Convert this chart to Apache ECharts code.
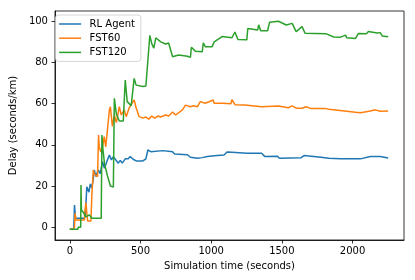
<!DOCTYPE html>
<html><head><meta charset="utf-8">
<script src="https://cdn.jsdelivr.net/npm/echarts@6/dist/echarts.min.js"></script>
<style>html,body{margin:0;padding:0;background:#fff}#c{width:415px;height:280px}</style>
</head><body><div id="c"></div>
<script>
const seriesNames = ['RL Agent', 'FST60', 'FST120'];
const seriesColors = ['#1f77b4', '#ff7f0e', '#2ca02c'];
const xTicks = [0, 500, 1000, 1500, 2000];
const yTicks = [0, 20, 40, 60, 80, 100];
const xTitle = 'Simulation time (seconds)';
const yTitle = 'Delay (seconds/km)';

const rlAgent = [[0,-1],[28,-1],[33,10.8],[40,4.4],[103,4.4],[110,6],[120,19.7],[135,17],[145,21],[155,19],[165,23],[173,27.8],[185,24.6],[200,27.8],[215,26],[231,31.8],[245,28.6],[266,32.7],[280,35],[294,32.7],[308,34.3],[322,35.1],[343,31.1],[357,32.5],[371,31.1],[392,33.2],[413,33.2],[427,34.3],[448,33],[469,32.2],[517,32.2],[538,33.2],[552,37.5],[573,36.7],[587,37.2],[657,37.2],[727,36.7],[741,35.6],[832,35.2],[853,34],[902,33.5],[937,33.8],[972,34.3],[1042,34.8],[1091,35.1],[1112,36.5],[1147,36.4],[1252,35.9],[1357,35.9],[1378,34.4],[1469,34.5],[1483,33.5],[1636,33.8],[1657,34.8],[1671,34],[1776,34],[1832,33.5],[1916,33.2],[2056,33.2],[2126,34.3],[2196,34.3],[2252,33.6]];

const fst60 = [[0,-1],[28,-1],[33,0.3],[37,6.8],[44,3.5],[103,3.5],[106,7.6],[114,12],[120,7],[126,3],[149,3],[156,15.7],[166,27.8],[173,26],[196,24.5],[203,44.8],[208,39],[219,36.7],[231,39],[243,44],[254,39],[266,38.3],[280,57],[287,58.5],[301,49],[315,54.5],[329,50.8],[350,58.5],[364,54.5],[385,57],[399,53.7],[420,58],[455,61.8],[469,58],[490,53.7],[517,53],[538,53.5],[559,52.5],[580,54],[601,53],[622,54],[643,53.5],[678,54.5],[699,54],[727,56],[748,54.5],[797,57],[818,59.3],[853,58.5],[874,59],[902,58.5],[923,61],[937,60.2],[958,60.2],[1014,61.8],[1021,60.2],[1077,60.2],[1140,60],[1147,62],[1168,59.5],[1238,59.3],[1252,58.5],[1357,58.5],[1371,58.2],[1476,58.9],[1545,58],[1573,58.9],[1601,57.8],[1643,57.8],[1671,58.5],[1706,57.6],[1811,57.6],[1832,57.3],[1846,56.6],[2021,55.8],[2056,55.6],[2126,56.4],[2161,57],[2196,56.3],[2252,56.4]];

const fst120 = [[0,-1],[56,-1],[60,0],[77,0],[79,20.5],[82,8.4],[98,7],[112,5],[126,4.5],[138,6],[149,6],[156,4.4],[222,4.4],[227,44.8],[234,38],[245,31],[266,25],[287,20],[308,19.5],[315,62.6],[329,55],[350,51.6],[378,51.6],[392,71.5],[406,61],[434,59],[448,58.4],[455,72.3],[469,69],[517,68.3],[538,68.6],[566,93.2],[580,89],[594,87],[608,92],[643,90],[678,89],[699,89.5],[727,82.8],[769,83.6],[832,83],[853,82.5],[860,87.4],[888,85.5],[937,85.2],[944,89.6],[958,87.7],[1007,87.7],[1021,90],[1077,92.6],[1147,92],[1168,94.8],[1189,91.2],[1252,91],[1259,96.5],[1329,95.8],[1336,98.3],[1350,95.4],[1399,95.4],[1413,99.5],[1476,100],[1531,98.2],[1573,99],[1601,95],[1643,97.4],[1664,94.2],[1811,94],[1867,92.4],[1874,93],[1916,92.3],[1951,93.3],[1958,92],[2021,91.7],[2028,91.2],[2042,94.1],[2098,94],[2112,95],[2175,94.3],[2196,94.5],[2210,92.9],[2252,92.5]];

const allData = [rlAgent, fst60, fst120];
const font = 'DejaVu Sans';

const chart = echarts.init(document.getElementById('c'), null, {renderer: 'canvas'});
chart.setOption({
  animation: false,
  backgroundColor: '#fff',
  textStyle: {fontFamily: font},
  grid: {left: 51, right: 11, top: 11, bottom: 40, show: true, borderColor: '#000', borderWidth: 0.8, backgroundColor: 'transparent'},
  legend: {
    left: 55.5, top: 15, orient: 'vertical',
    itemWidth: 22, itemHeight: 1.5, itemGap: 4.2, icon: 'rect',
    padding: [4, 6, 4, 3.6],
    backgroundColor: 'rgba(255,255,255,0.8)', borderColor: '#cccccc', borderWidth: 0.8, borderRadius: 3,
    textStyle: {fontFamily: font, fontSize: 10, color: '#000', padding: [0, 0, 0, 3.5]},
    data: seriesNames
  },
  xAxis: {
    type: 'value', min: -105, max: 2364,
    name: xTitle, nameLocation: 'middle', nameGap: 21,
    nameTextStyle: {fontFamily: font, fontSize: 10, color: '#000'},
    axisLine: {show: true, onZero: false, lineStyle: {color: '#000', width: 0.8}},
    axisTick: {show: true, length: 3.5, lineStyle: {color: '#000', width: 0.8}, customValues: xTicks},
    axisLabel: {fontFamily: font, fontSize: 10, color: '#000', margin: 6, customValues: xTicks, formatter: v => String(v)},
    splitLine: {show: false}
  },
  yAxis: {
    type: 'value', min: -6.2, max: 105,
    name: yTitle, nameLocation: 'middle', nameGap: 34, nameRotate: 90,
    nameTextStyle: {fontFamily: font, fontSize: 10, color: '#000'},
    axisLine: {show: true, onZero: false, lineStyle: {color: '#000', width: 0.8}},
    axisTick: {show: true, length: 3.5, lineStyle: {color: '#000', width: 0.8}, customValues: yTicks},
    axisLabel: {fontFamily: font, fontSize: 10, color: '#000', margin: 7, customValues: yTicks, formatter: v => String(v)},
    splitLine: {show: false}
  },
  series: seriesNames.map((n, i) => ({
    name: n, type: 'line', data: allData[i], symbol: 'none', showSymbol: false,
    lineStyle: {width: 1.5, color: seriesColors[i]}, itemStyle: {color: seriesColors[i]},
    emphasis: {disabled: true}, z: 2 + i
  }))
});
</script>
</body></html>
